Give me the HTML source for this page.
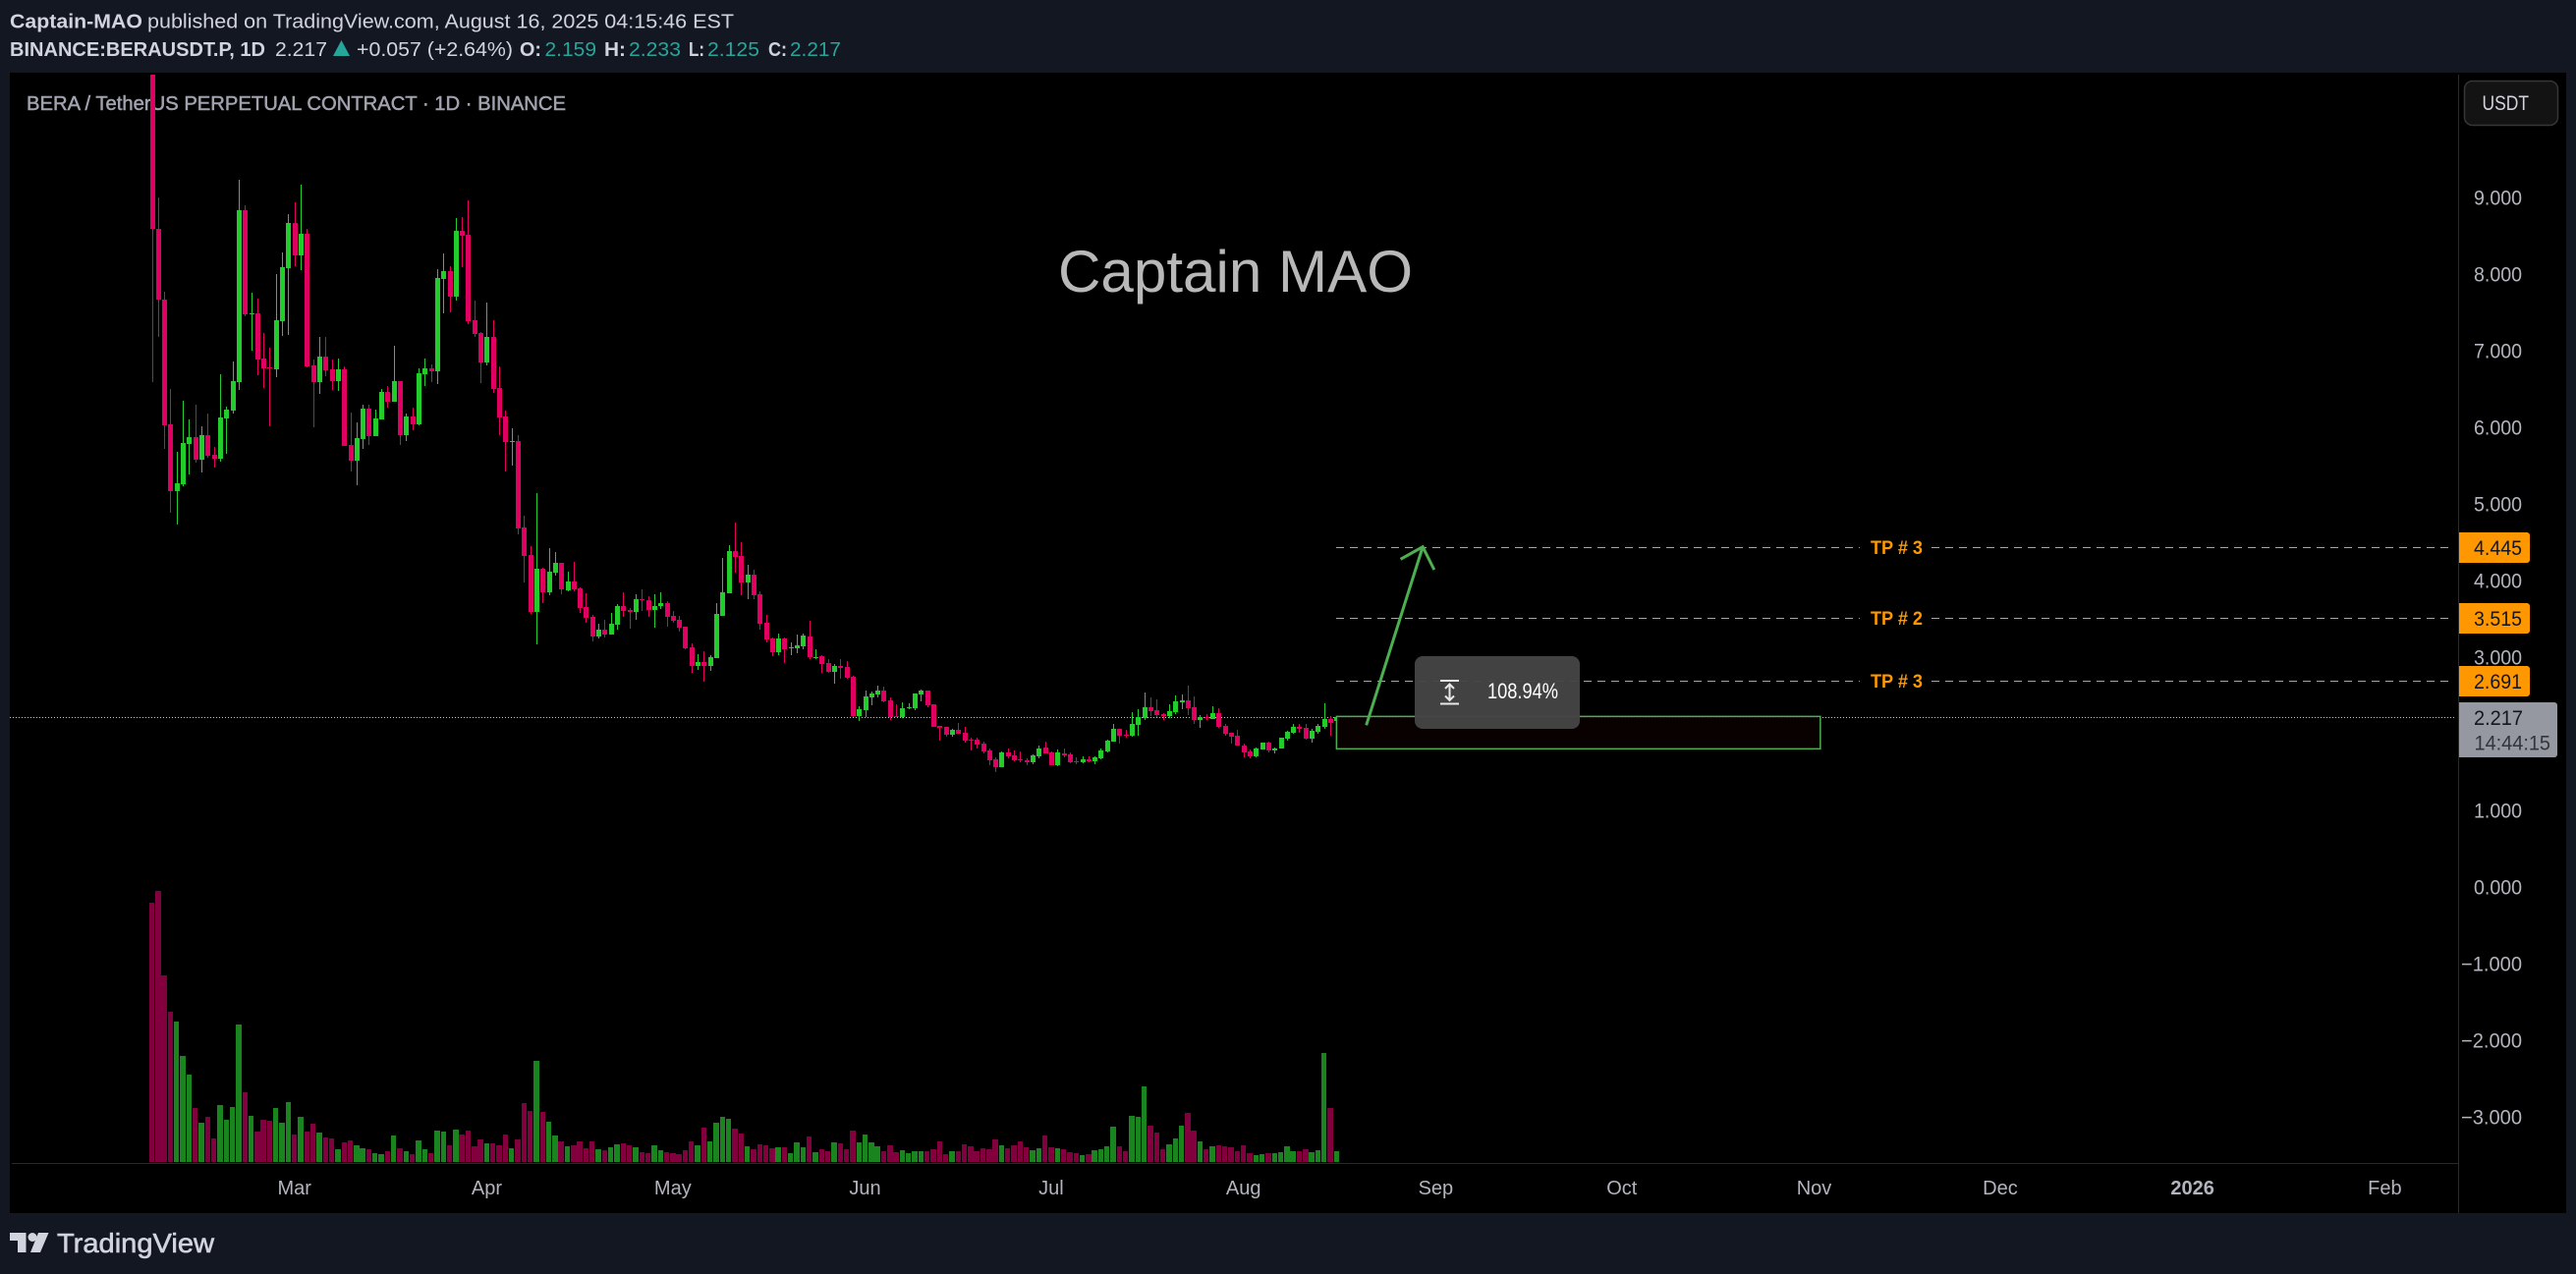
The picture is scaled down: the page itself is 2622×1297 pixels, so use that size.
<!DOCTYPE html>
<html lang="en">
<head>
<meta charset="utf-8">
<title>BERA / TetherUS PERPETUAL CONTRACT chart</title>
<style>
html,body{margin:0;padding:0;background:#131722;}
body{width:2622px;height:1297px;overflow:hidden;}
svg{display:block;font-family:"Liberation Sans",sans-serif;}
</style>
</head>
<body>
<svg id="chart" xmlns="http://www.w3.org/2000/svg" width="2622" height="1297" viewBox="0 0 2622 1297">
  <rect x="0" y="0" width="2622" height="1297" fill="#131722"/>
  <rect x="10" y="74" width="2602" height="1161" fill="#000000"/>

  <g fill="#d1d4dc" font-size="20">
    <text x="10" y="28.5" font-weight="700" textLength="135" lengthAdjust="spacingAndGlyphs">Captain-MAO</text>
    <text x="150" y="28.5" textLength="597" lengthAdjust="spacingAndGlyphs">published on TradingView.com, August 16, 2025 04:15:46 EST</text>
    <text x="10" y="57" font-weight="700" textLength="260" lengthAdjust="spacingAndGlyphs">BINANCE:BERAUSDT.P, 1D</text>
    <text x="280" y="57" textLength="53" lengthAdjust="spacingAndGlyphs">2.217</text>
    <polygon points="347.5,41 356,57 339,57" fill="#26a69a"/>
    <text x="363" y="57" textLength="159" lengthAdjust="spacingAndGlyphs">+0.057 (+2.64%)</text>
    <text x="529" y="57" font-weight="700" textLength="22" lengthAdjust="spacingAndGlyphs">O:</text>
    <text x="554.5" y="57" fill="#26a69a" textLength="52.5" lengthAdjust="spacingAndGlyphs">2.159</text>
    <text x="615" y="57" font-weight="700" textLength="22" lengthAdjust="spacingAndGlyphs">H:</text>
    <text x="640" y="57" fill="#26a69a" textLength="53" lengthAdjust="spacingAndGlyphs">2.233</text>
    <text x="701" y="57" font-weight="700" textLength="16" lengthAdjust="spacingAndGlyphs">L:</text>
    <text x="720" y="57" fill="#26a69a" textLength="53" lengthAdjust="spacingAndGlyphs">2.125</text>
    <text x="782" y="57" font-weight="700" textLength="19" lengthAdjust="spacingAndGlyphs">C:</text>
    <text x="804" y="57" fill="#26a69a" textLength="52" lengthAdjust="spacingAndGlyphs">2.217</text>
  </g>

  <text x="27" y="112" font-size="20.5" fill="#a0a3af" stroke="#a0a3af" stroke-width="0.5" textLength="549" lengthAdjust="spacingAndGlyphs">BERA / TetherUS PERPETUAL CONTRACT · 1D · BINANCE</text>
  <text x="1077" y="297" font-size="60" fill="#b8b8b8" textLength="361" lengthAdjust="spacingAndGlyphs">Captain MAO</text>

  <line x1="12" y1="1184.5" x2="2502" y2="1184.5" stroke="#2a2a2a" stroke-width="1"/>
  <line x1="2502.5" y1="76" x2="2502.5" y2="1235" stroke="#2a2a2a" stroke-width="1"/>

  <g id="volume-layer" shape-rendering="crispEdges"></g>
  <g id="price-ticks" font-size="21" fill="#b2b5be" text-anchor="end"></g>
  <g id="time-ticks" font-size="20" fill="#b2b5be" text-anchor="middle"></g>
  <g id="last-line-layer"></g>
  <g id="candle-layer" shape-rendering="crispEdges"></g>
  <g id="target-layer"></g>
  <g id="drawing-layer"></g>

  <g>
    <rect x="1440" y="668" width="168" height="74" rx="8" fill="#454545" fill-opacity="0.96"/>
    <g stroke="#e8e8e8" stroke-width="2" fill="none">
      <line x1="1466" y1="693" x2="1485" y2="693"/>
      <line x1="1466" y1="716.5" x2="1485" y2="716.5"/>
      <line x1="1475.5" y1="697" x2="1475.5" y2="713"/>
      <polyline points="1471,701 1475.5,696.5 1480,701"/>
      <polyline points="1471,708.5 1475.5,713 1480,708.5"/>
    </g>
    <text x="1514" y="711" font-size="22" fill="#ffffff" textLength="72" lengthAdjust="spacingAndGlyphs">108.94%</text>
  </g>

  <g id="price-labels" font-size="21"></g>

  <g>
    <rect x="2508.5" y="82.5" width="95" height="45" rx="8" fill="#131313" stroke="#363636" stroke-width="1.5"/>
    <text x="2526.5" y="112" font-size="21" fill="#d1d4dc" textLength="47.5" lengthAdjust="spacingAndGlyphs">USDT</text>
  </g>

  <g fill="#d1d4dc">
    <polygon points="10,1255 26.5,1255 26.5,1275 18,1275 18,1263 10,1263"/>
    <circle cx="33" cy="1259.5" r="4.5"/>
    <polygon points="39,1255 49.5,1255 41,1275 31,1275"/>
    <text x="58" y="1275" font-size="28" stroke="#d1d4dc" stroke-width="0.6" textLength="160" lengthAdjust="spacingAndGlyphs">TradingView</text>
  </g>
</svg>

<script>
const opens = [10.66,8.63,7.705,6.064,5.185,5.275,5.805,5.896,5.598,5.922,5.663,5.611,6.141,6.244,6.619,8.881,7.51,7.524,6.929,6.815,6.787,7.421,8.118,8.713,8.286,8.571,6.839,6.619,6.955,6.787,6.632,6.787,5.792,5.586,5.87,6.27,5.909,6.128,6.49,6.361,6.632,5.922,6.167,6.064,6.722,6.8,6.761,7.976,8.079,7.744,8.609,8.557,7.433,7.266,6.878,7.214,6.542,6.167,5.83,5.844,4.707,4.345,3.596,4.164,3.854,4.113,4.242,3.88,3.996,3.906,3.66,3.531,3.273,3.363,3.299,3.428,3.673,3.622,3.596,3.764,3.751,3.622,3.673,3.712,3.544,3.492,3.402,3.131,2.885,2.937,2.885,2.988,3.544,3.841,4.397,4.332,3.983,4.087,3.828,3.454,3.247,3.066,3.247,3.12,3.118,3.144,3.273,2.995,3.014,2.924,2.808,2.885,2.872,2.743,2.222,2.304,2.472,2.511,2.562,2.433,2.226,2.214,2.333,2.33,2.511,2.562,2.381,2.097,2.084,1.981,2.045,2.007,1.916,1.916,1.865,1.774,1.658,1.555,1.748,1.709,1.658,1.645,1.619,1.697,1.813,1.748,1.58,1.735,1.722,1.632,1.619,1.658,1.632,1.671,1.761,1.89,2.058,1.981,1.968,2.11,2.2,2.343,2.304,2.252,2.226,2.278,2.407,2.433,2.343,2.175,2.213,2.188,2.265,2.097,2.007,1.968,1.839,1.761,1.697,1.787,1.877,1.774,1.8,1.929,2.007,2.084,2.071,1.929,2.02,2.084,2.188,2.159];
const highs = [10.66,9.05,7.808,6.529,5.702,6.374,6.128,6.322,6.038,6.206,5.766,6.722,6.296,6.89,9.281,8.945,7.795,7.718,7.265,7.072,8.041,8.325,8.829,8.984,9.216,8.635,6.916,7.213,7.213,6.916,6.929,6.826,6.219,6.09,6.322,6.322,6.257,6.529,6.567,7.097,6.632,6.206,6.283,6.8,6.929,6.852,8.105,8.312,8.144,8.777,8.79,9.01,7.692,7.278,7.666,7.433,6.826,6.244,6.012,5.922,4.862,4.461,5.159,4.177,4.436,4.384,4.242,4.126,4.255,3.919,3.841,3.557,3.441,3.492,3.583,3.699,3.854,3.648,3.828,3.893,3.803,3.828,3.854,3.738,3.609,3.544,3.402,3.182,3.04,3.079,3.027,3.712,4.306,4.474,4.772,4.513,4.216,4.151,3.867,3.557,3.26,3.312,3.26,3.195,3.299,3.312,3.48,3.105,3.027,2.976,2.911,2.976,2.95,2.756,2.356,2.562,2.549,2.627,2.614,2.472,2.381,2.407,2.394,2.524,2.575,2.562,2.381,2.097,2.084,2.058,2.136,2.084,1.942,1.942,1.89,1.8,1.684,1.761,1.8,1.774,1.761,1.671,1.722,1.839,1.89,1.761,1.787,1.8,1.748,1.684,1.697,1.697,1.697,1.8,1.916,2.123,2.058,2.045,2.278,2.317,2.536,2.472,2.446,2.265,2.381,2.498,2.511,2.627,2.485,2.239,2.252,2.355,2.33,2.123,2.007,2.045,1.865,1.787,1.813,1.877,1.89,1.813,1.942,2.032,2.123,2.123,2.123,2.058,2.123,2.394,2.226,2.233];
const lows = [6.615,7.218,5.745,4.901,4.746,5.25,5.405,5.56,5.43,5.624,5.495,5.573,5.676,6.206,6.516,7.485,7.033,6.71,6.542,6.038,6.684,7.227,7.24,8.144,8.092,6.81,6.025,6.464,6.697,6.516,6.503,5.78,5.443,5.262,5.741,5.792,5.909,6.128,6.283,6.361,5.792,5.844,5.986,6.051,6.567,6.619,6.593,7.524,7.537,7.692,8.131,7.382,7.214,6.606,6.839,6.477,5.922,5.443,5.521,4.616,3.99,3.57,3.17,3.712,3.815,4.074,3.828,3.867,3.867,3.583,3.454,3.208,3.247,3.26,3.299,3.363,3.531,3.376,3.492,3.609,3.531,3.389,3.635,3.402,3.454,3.337,3.105,2.795,2.833,2.679,2.821,2.988,3.544,3.841,4.113,3.815,3.764,3.764,3.363,3.195,3.014,3.027,2.924,3.027,3.053,3.105,2.976,2.976,2.795,2.795,2.653,2.717,2.717,2.214,2.162,2.214,2.368,2.472,2.407,2.175,2.214,2.2,2.317,2.304,2.42,2.343,2.084,1.903,1.955,1.955,1.994,1.877,1.774,1.8,1.735,1.58,1.49,1.555,1.671,1.632,1.619,1.58,1.593,1.671,1.735,1.58,1.567,1.684,1.606,1.593,1.606,1.619,1.593,1.658,1.748,1.89,1.865,1.942,1.955,1.968,2.175,2.226,2.213,2.175,2.2,2.252,2.317,2.239,2.123,2.071,2.175,2.188,2.071,1.968,1.865,1.839,1.684,1.671,1.684,1.787,1.748,1.735,1.8,1.903,1.994,2.007,1.916,1.877,1.994,2.058,1.968,2.125];
const closes = [8.63,7.705,6.051,5.185,5.288,5.818,5.896,5.598,5.922,5.65,5.611,6.154,6.257,6.632,8.881,7.511,7.53,6.916,6.8,6.8,7.433,8.131,8.713,8.286,8.571,6.826,6.619,6.955,6.774,6.632,6.787,5.779,5.586,5.883,6.27,5.909,6.141,6.49,6.361,6.632,5.922,6.167,6.064,6.735,6.8,6.761,7.989,8.079,7.744,8.609,8.544,7.421,7.253,6.878,7.214,6.529,6.154,5.831,5.85,4.694,4.332,3.596,4.164,3.854,4.126,4.242,3.893,3.996,3.893,3.648,3.518,3.273,3.363,3.299,3.441,3.673,3.609,3.596,3.764,3.751,3.622,3.673,3.712,3.531,3.48,3.389,3.118,2.885,2.937,2.885,3.001,3.57,3.854,4.397,4.319,3.983,4.087,3.815,3.441,3.234,3.066,3.247,3.105,3.132,3.157,3.286,3.001,3.005,2.911,2.808,2.885,2.859,2.73,2.222,2.317,2.485,2.524,2.562,2.42,2.214,2.214,2.33,2.343,2.524,2.562,2.368,2.084,2.071,1.981,2.045,1.994,1.903,1.906,1.852,1.761,1.645,1.555,1.748,1.697,1.645,1.645,1.619,1.709,1.8,1.735,1.58,1.748,1.709,1.619,1.619,1.658,1.632,1.684,1.774,1.903,2.058,1.968,1.968,2.123,2.213,2.343,2.291,2.239,2.226,2.291,2.42,2.433,2.33,2.175,2.213,2.2,2.265,2.084,1.994,1.955,1.839,1.748,1.697,1.8,1.877,1.774,1.8,1.942,2.02,2.084,2.058,1.929,2.032,2.097,2.188,2.136,2.217];
const volumes = [132,138,95,76.5,71.5,54,44.5,27.5,20,23,12,29,21.5,28,70,35.5,23.5,15.5,21.5,21,27.5,20,30.5,14,23,15.5,19.5,15,12.5,12,6.5,10,11,8.5,7,6.5,4.5,4,5.5,13.5,7,5.5,4,11,6.5,4.5,16,15.5,8.5,16.5,14,16,8,11.5,9.5,9.5,8.5,14,7,11.5,30,26,51.5,25.5,20.5,13.5,10.5,8,8.5,10.5,7,10.5,6.5,6,7.5,9,9.5,8.5,7.5,5,4.5,8.5,6,5,4.5,4,6,10.5,8.5,17.5,10.5,20,23,22,17,14.5,8,6.5,9,8.5,7,7.5,7.5,4.5,10,7.5,13,5,6.5,5.5,10,9.5,6.5,16,10,14,10,8,5.5,8.5,5,6,4.5,5.5,5.5,5.5,6.5,10.5,4,5.5,5.5,9,8,5.5,7,6.5,11.5,8.5,7,8.5,10.5,7.5,6,7,13.5,7.5,7,6.5,5,4.5,3.5,4,6,6.5,8,18,8,5.5,23.5,23,38.5,18.5,15,6.5,9,12,18.5,25,16,10.5,6.5,8,8.5,8,7.5,5.5,8.5,4.5,3.5,4,4.5,4.5,5,8,5.5,5.5,6.5,5,6,55.5,27.5,5.5];
const priceTicks = [9,8,7,6,5,4,3,2,1,0,-1,-2,-3];
const monthTickDays = [23,54,84,115,145,176,207,237,268,298,329,360];
const monthTickLabels = ["Mar","Apr","May","Jun","Jul","Aug","Sep","Oct","Nov","Dec","2026","Feb"];
const targetLevels = [4.445,3.515,2.691];
const targetNames = ["TP # 3","TP # 2","TP # 3"];
const lastPrice = 2.217;
const countdown = "14:44:15";
const measureRange = [2.222,1.796];
const measureDays = [191,269];
const arrowDays = [195.8,204.9];
const arrowPrices = [2.106,4.452];

const SVG_NS = "http://www.w3.org/2000/svg";
const GREEN = "#22cc2b";
const RED = "#df0062";
const VOL_GREEN = "#1a841f";
const VOL_RED = "#83003f";
const ORANGE = "#ff9800";

function xDay(d){ return 154.5 + 6.3135 * d; }
function yPrice(p){ return 557.3 + (4.445 - p) * 77.4; }
function yTick(p){ return 591 + (4 - p) * 78; }
function yVolume(v){ return 1183 - v * (276 / 138); }
function make(tag, parent){
  const el = document.createElementNS(SVG_NS, tag);
  parent.appendChild(el);
  return el;
}
function set(el, props){ for (const k in props) el.setAttribute(k, props[k]); return el; }

const volumeLayer = document.getElementById("volume-layer");
const candleLayer = document.getElementById("candle-layer");
const priceTickLayer = document.getElementById("price-ticks");
const timeTickLayer = document.getElementById("time-ticks");
const lastLineLayer = document.getElementById("last-line-layer");
const targetLayer = document.getElementById("target-layer");
const drawingLayer = document.getElementById("drawing-layer");
const priceLabelLayer = document.getElementById("price-labels");

opens.forEach(function(open, i){
  const close = closes[i];
  const up = close >= open;
  const cx = Math.round(xDay(i));

  const bar = make("rect", volumeLayer);
  
  
  const vy = Math.round(yVolume(volumes[i]));
  const vLeft = Math.round(xDay(i) - 2.7);
  const vRight = Math.round(xDay(i) + 2.7);
  set(bar, {x: vLeft, y: vy, width: vRight - vLeft, height: 1183 - vy, fill: up ? VOL_GREEN : VOL_RED});

  const wick = make("rect", candleLayer);
  
  
  const hy = Math.round(yPrice(highs[i]));
  const ly = Math.round(yPrice(lows[i]));
  set(wick, {x: cx, y: hy, width: 1, height: Math.max(1, ly - hy), fill: up ? GREEN : RED});

  const body = make("rect", candleLayer);
  
  
  const by0 = Math.round(yPrice(Math.max(open, close)));
  const by1 = Math.round(yPrice(Math.min(open, close)));
  set(body, {x: cx - 2, y: by0, width: 5, height: Math.max(1, by1 - by0), fill: up ? GREEN : RED});
});

priceTicks.forEach(function(p){
  const t = make("text", priceTickLayer);
  
  
  const s = p < 0 ? "\u2212" + Math.abs(p).toFixed(3) : p.toFixed(3);
  set(t, {x: 2567, y: yTick(p) + 7.5, textLength: p < 0 ? 62 : 49, lengthAdjust: "spacingAndGlyphs"});
  t.textContent = s;
});

monthTickDays.forEach(function(d, i){
  const t = make("text", timeTickLayer);
  
  
  set(t, {x: xDay(d), y: 1216});
  if (monthTickLabels[i] === "2026") t.setAttribute("font-weight", "700");
  t.textContent = monthTickLabels[i];
});

const lastLine = make("line", lastLineLayer);


set(lastLine, {x1: 10, x2: 2498, y1: Math.round(yPrice(lastPrice)) + 0.5, y2: Math.round(yPrice(lastPrice)) + 0.5, stroke: "#c4c6cc", "stroke-width": 1, "stroke-dasharray": "1 2", "shape-rendering": "crispEdges"});

targetLevels.forEach(function(level, i){
  const y = Math.round(yPrice(level));
  const left = make("line", targetLayer);
  
  
  set(left, {x1: 1360, x2: 1893, y1: y + 0.5, y2: y + 0.5, stroke: ORANGE, "stroke-width": 1, "stroke-dasharray": "8 6", "shape-rendering": "crispEdges"});
  const right = make("line", targetLayer);
  
  
  set(right, {x1: 1966, x2: 2498, y1: y + 0.5, y2: y + 0.5, stroke: ORANGE, "stroke-width": 1, "stroke-dasharray": "8 6", "shape-rendering": "crispEdges"});
  const label = make("text", targetLayer);
  
  
  set(label, {x: 1904, y: y + 7, "font-size": 19, "font-weight": 700, fill: ORANGE, textLength: 53, lengthAdjust: "spacingAndGlyphs"});
  label.textContent = targetNames[i];

  const box = make("path", priceLabelLayer);
  
  
  set(box, {d: "M2503 " + (y - 15) + "H2572a3 3 0 0 1 3 3V" + (y + 13) + "a3 3 0 0 1 -3 3H2503Z", fill: ORANGE});
  const value = make("text", priceLabelLayer);
  
  
  set(value, {x: 2567, y: y + 8, "text-anchor": "end", fill: "#131722", textLength: 49, lengthAdjust: "spacingAndGlyphs"});
  value.textContent = level.toFixed(3);
});

const lastY = Math.round(yPrice(lastPrice));
const lastBox = make("path", priceLabelLayer);


set(lastBox, {d: "M2503 " + (lastY - 15) + "H2600a3 3 0 0 1 3 3V" + (lastY + 38) + "a3 3 0 0 1 -3 3H2503Z", fill: "#9598a1"});
const lastValue = make("text", priceLabelLayer);


set(lastValue, {x: 2518, y: lastY + 8, fill: "#131722", textLength: 50, lengthAdjust: "spacingAndGlyphs"});
lastValue.textContent = lastPrice.toFixed(3);
const countdownText = make("text", priceLabelLayer);


set(countdownText, {x: 2518.5, y: lastY + 33.5, fill: "#33353c", textLength: 77.5, lengthAdjust: "spacingAndGlyphs"});
countdownText.textContent = countdown;

const mx0 = xDay(measureDays[0]);
const mx1 = xDay(measureDays[1]);
const my0 = yPrice(measureRange[0]);
const my1 = yPrice(measureRange[1]);
const zone = make("rect", drawingLayer);


set(zone, {x: mx0, y: my0, width: mx1 - mx0, height: my1 - my0, fill: "#0a0000", "fill-opacity": 0.9, stroke: "#4caf50", "stroke-width": 1.5});

const ax0 = xDay(arrowDays[0]);
const ay0 = yPrice(arrowPrices[0]);
const ax1 = xDay(arrowDays[1]);
const ay1 = yPrice(arrowPrices[1]);
const arrow = make("line", drawingLayer);


set(arrow, {x1: ax0, y1: ay0, x2: ax1, y2: ay1, stroke: "#4caf50", "stroke-width": 3});
const head = make("polyline", drawingLayer);


set(head, {points: (ax1 - 22.6) + "," + (ay1 + 12.6) + " " + ax1 + "," + ay1 + " " + (ax1 + 11.7) + "," + (ay1 + 23.3), fill: "none", stroke: "#4caf50", "stroke-width": 3});
</script>
</body>
</html>
